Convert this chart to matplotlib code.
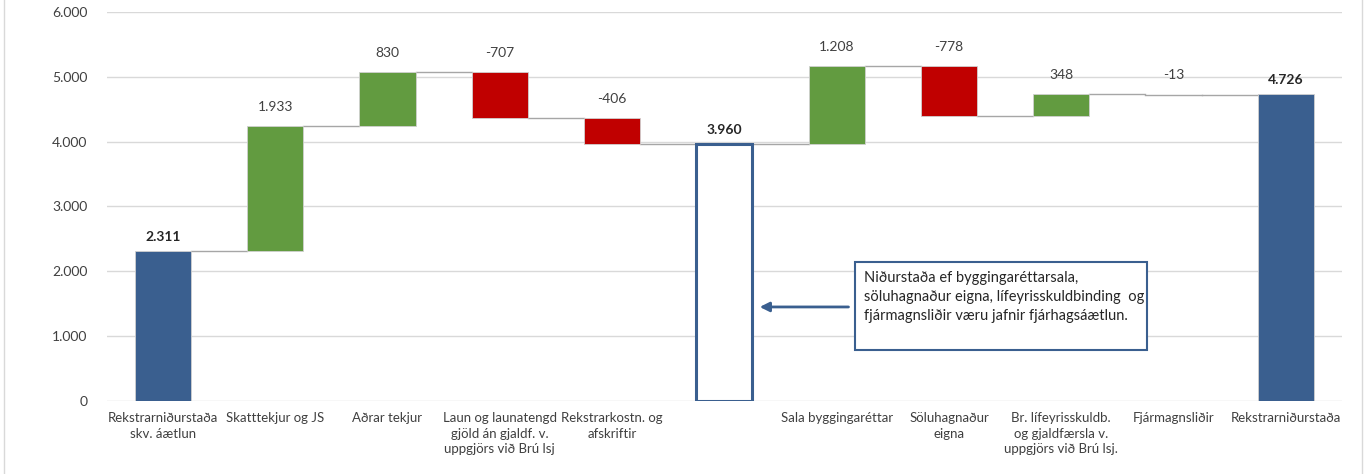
import numpy as np
import matplotlib.pyplot as plt
from matplotlib.lines import Line2D

plt.rcParams['font.family'] = ['Lato', 'DejaVu Sans']

# categories and values (m.kr.)
labels = ["Rekstrarniðurstaða\nskv. áætlun", "Skatttekjur og JS", "Aðrar tekjur",
          "Laun og launatengd\ngjöld án gjaldf. v.\nuppgjörs við Brú lsj",
          "Rekstrarkostn. og\nafskriftir", "", "Sala byggingaréttar",
          "Söluhagnaður\neigna", "Br. lífeyrisskuldb.\nog gjaldfærsla v.\nuppgjörs við Brú lsj.",
          "Fjármagnsliðir", "Rekstrarniðurstaða"]
steps = [2311, 1933, 830, -707, -406, 3960, 1208, -778, 348, -13, 4726]
kinds = ["total", "step", "step", "step", "step", "outline", "step", "step", "step", "step", "total"]
yticks = [0, 1000, 2000, 3000, 4000, 5000, 6000]
note = ("Niðurstaða ef byggingaréttarsala,\nsöluhagnaður eigna, lífeyrisskuldbinding  og\n"
        "fjármagnsliðir væru jafnir fjárhagsáætlun.")

blue = "#3A5F8F"
green = "#629B40"
red = "#C00000"
grey = "#A6A6A6"

def fmt(v):
    return f"{v:,}".replace(",", ".")

fig = plt.figure(figsize=(13.68, 4.74), dpi=100)
ax = fig.add_axes([0.078, 0.154, 0.903, 0.821])

x = np.arange(len(steps))
w = 0.5
level = 0
tops = []
for i, (v, k) in enumerate(zip(steps, kinds)):
    if k == "total":
        ax.bar(i, v, w, color=blue, edgecolor="#D0D0D0", lw=0.6, zorder=3)
        level = v
        top = v
        ax.annotate(fmt(v), (i, top), xytext=(0, 6), textcoords="offset points",
                    ha="center", va="bottom", fontsize=10, fontweight="bold", color="#262626")
    elif k == "outline":
        ax.bar(i, v, w, color="white", edgecolor=blue, lw=2.2, zorder=3)
        level = v
        top = v
        ax.annotate(fmt(v), (i, top), xytext=(0, 6), textcoords="offset points",
                    ha="center", va="bottom", fontsize=10, fontweight="bold", color="#262626")
    else:
        start = level
        level = level + v
        lo, hi = min(start, level), max(start, level)
        h = hi - lo
        if abs(v) < 30:
            ax.plot([i - w / 2, i + w / 2], [level, level], color=grey, lw=1.0, zorder=3)
        else:
            ax.bar(i, h, w, bottom=lo, color=green if v > 0 else red,
                   edgecolor="#D0D0D0", lw=0.6, zorder=3)
        top = hi
        ax.annotate(fmt(v), (i, top), xytext=(0, 9), textcoords="offset points",
                    ha="center", va="bottom", fontsize=10, color="#404040")
    tops.append(level)

# connectors
for i in range(len(steps) - 1):
    ax.plot([i + w / 2, i + 1 - w / 2], [tops[i], tops[i]], color=grey, lw=1.0, zorder=2)

ax.set_xlim(-0.5, len(steps) - 0.5)
ax.set_ylim(0, 6000)
ax.set_yticks(yticks)
ax.set_yticklabels([fmt(t) for t in yticks], fontsize=10, color="#404040")
ax.set_xticks(x)
ax.set_xticklabels(labels, fontsize=9.5, color="#404040", linespacing=1.35)
ax.tick_params(length=0)
ax.tick_params(axis="y", pad=14)
ax.tick_params(axis="x", pad=8)
ax.grid(axis="y", color="#D9D9D9", lw=1.0, zorder=0)
for s in ax.spines.values():
    s.set_visible(False)

# note box with arrow
ax.annotate("", xy=(5.29, 1450), xytext=(6.13, 1450),
            arrowprops=dict(arrowstyle="-|>", color=blue, lw=2, mutation_scale=14), zorder=4)
ax.text(6.24, 2000, note, fontsize=10.5, color="#262626", va="top", ha="left",
        linespacing=1.45, zorder=5)
ax.add_patch(plt.Rectangle((6.16, 790), 8.76 - 6.16, 2140 - 790, facecolor="white",
                           edgecolor=blue, lw=1.5, zorder=4))

# figure border
fig.add_artist(Line2D([0.003, 0.003], [0, 1], color="#D9D9D9", lw=1.0))
fig.add_artist(Line2D([0.9955, 0.9955], [0, 1], color="#D9D9D9", lw=1.0))

fig.savefig("out.png", dpi=100)
